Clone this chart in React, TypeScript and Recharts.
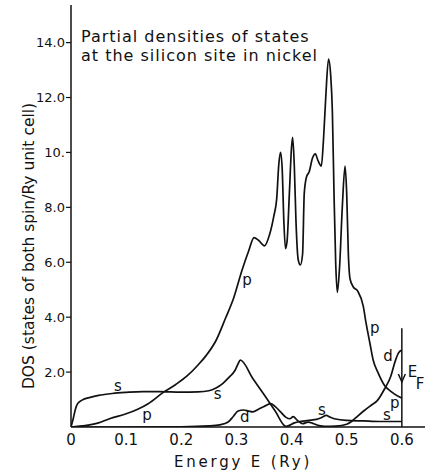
import React from 'react';
import { LineChart, Line, XAxis, YAxis, ReferenceLine, ReferenceDot } from 'recharts';

// Partial DOS at the Si site in Ni: [energy (Ry), states per Ry]
const sStates: [number, number][] = [
  [0, 0], [0.004, 0.3], [0.008, 0.65], [0.012, 0.85], [0.02, 0.98], [0.035, 1.08],
  [0.05, 1.15], [0.075, 1.22], [0.1, 1.26], [0.13, 1.29], [0.16, 1.29], [0.2, 1.27],
  [0.23, 1.28], [0.25, 1.32], [0.263, 1.42], [0.275, 1.58], [0.286, 1.8], [0.297, 2.05],
  [0.303, 2.3], [0.307, 2.44], [0.33, 1.76], [0.35, 1.18], [0.37, 0.59], [0.39, 0.02],
  [0.395, 0.05], [0.405, 0.15], [0.415, 0.2], [0.425, 0.22], [0.435, 0.25], [0.445, 0.28],
  [0.455, 0.35], [0.463, 0.42], [0.47, 0.36], [0.48, 0.29], [0.5, 0.24], [0.53, 0.22],
  [0.56, 0.2], [0.6, 0.2],
];

const pStates: [number, number][] = [
  [0, 0], [0.02, 0.04], [0.05, 0.15], [0.07, 0.3], [0.1, 0.48], [0.12, 0.64], [0.14, 0.85],
  [0.168, 1.27], [0.19, 1.55], [0.21, 1.85], [0.23, 2.25], [0.245, 2.6], [0.263, 3.15],
  [0.28, 3.95], [0.295, 4.7], [0.31, 5.7], [0.322, 6.4], [0.332, 6.9], [0.34, 6.8],
  [0.351, 6.6], [0.36, 7.0], [0.368, 7.7], [0.373, 8.3], [0.377, 9.6], [0.38, 10.0],
  [0.383, 9.4], [0.386, 7.5], [0.389, 6.5], [0.392, 6.8], [0.396, 8.5], [0.4, 10.2],
  [0.402, 10.55], [0.405, 9.5], [0.408, 7.5], [0.412, 6.1], [0.416, 5.9], [0.42, 6.3],
  [0.423, 8.5], [0.427, 9.1], [0.432, 9.3], [0.438, 9.8], [0.443, 9.95], [0.448, 9.7],
  [0.454, 9.5], [0.458, 10.5], [0.462, 12.0], [0.467, 13.4], [0.471, 12.8], [0.474, 11.5],
  [0.477, 8.5], [0.48, 6.0], [0.483, 4.9], [0.487, 5.8], [0.492, 8.0], [0.497, 9.5],
  [0.5, 8.5], [0.503, 6.3], [0.506, 5.4], [0.512, 5.1], [0.52, 4.95], [0.53, 4.4],
  [0.535, 3.8], [0.542, 3.06], [0.548, 2.44], [0.557, 1.97], [0.569, 1.5], [0.58, 1.3],
  [0.595, 1.1], [0.6, 1.05],
];

const dStates: [number, number][] = [
  [0, 0], [0.1, 0], [0.2, 0.01], [0.25, 0.04], [0.27, 0.08], [0.285, 0.18], [0.295, 0.4],
  [0.303, 0.58], [0.313, 0.62], [0.322, 0.58], [0.33, 0.55], [0.34, 0.65], [0.35, 0.75],
  [0.362, 0.85], [0.37, 0.75], [0.38, 0.55], [0.39, 0.35], [0.397, 0.3], [0.403, 0.38],
  [0.41, 0.25], [0.42, 0.12], [0.43, 0.18], [0.44, 0.12], [0.45, 0.05], [0.46, 0.02],
  [0.48, 0.03], [0.5, 0.1], [0.51, 0.22], [0.52, 0.4], [0.533, 0.62], [0.545, 0.8],
  [0.555, 0.95], [0.569, 1.4], [0.58, 1.85], [0.588, 2.4], [0.594, 2.7], [0.6, 2.8],
];

const energyTicks = [0, 0.1, 0.2, 0.3, 0.4, 0.5, 0.6];
const energyTickLabels = ['0', '0.1', '0.2', '0.3', '0.4', '0.5', '0.6'];
const dosTicks = [2, 4, 6, 8, 10, 12, 14];
const dosTickLabels = ['2.0', '4.0', '6.0', '8.0', '10.', '12.0', '14.0'];

const fermiEnergy = 0.6;

// curve letters placed next to each partial wave
const curveTags: { e: number; v: number; text: string }[] = [
  { e: 0.085, v: 1.5, text: 's' },
  { e: 0.266, v: 1.22, text: 's' },
  { e: 0.455, v: 0.64, text: 's' },
  { e: 0.573, v: 0.45, text: 's' },
  { e: 0.138, v: 0.44, text: 'p' },
  { e: 0.319, v: 5.36, text: 'p' },
  { e: 0.551, v: 3.6, text: 'p' },
  { e: 0.587, v: 0.9, text: 'p' },
  { e: 0.315, v: 0.36, text: 'd' },
  { e: 0.575, v: 2.6, text: 'd' },
];

const toRows = (pts: [number, number][]) => pts.map(([e, v]) => ({ e, v }));

const FONT = '"DejaVu Sans", sans-serif';
const INK = '#111';

const FermiMark = (props: any) => {
  const { cx, cy } = props;
  return (
    <g>
      <path d={`M${cx - 3.5},${cy - 8} L${cx},${cy} L${cx + 3.5},${cy - 8}`} stroke={INK} strokeWidth={1.5} fill="none" />
      <text x={cx + 6} y={cy - 5} fontFamily={FONT} fontSize={15} fill={INK}>E</text>
      <text x={cx + 14} y={cy + 7} fontFamily={FONT} fontSize={15} fill={INK}>F</text>
    </g>
  );
};

export default function App() {
  return (
    <div style={{ position: 'absolute', left: 0, top: 0, width: 425, height: 475, background: '#fff' }}>
      <LineChart width={425} height={475} margin={{ top: 5, right: 0, bottom: 0, left: 0 }}>
        <XAxis
          type="number"
          dataKey="e"
          domain={[0, 0.642]}
          ticks={energyTicks}
          tickFormatter={(v: number) => energyTickLabels[energyTicks.indexOf(v)] ?? ''}
          height={48}
          tickLine={false}
          tickSize={4}
          tickMargin={3}
          axisLine={{ stroke: INK, strokeWidth: 1.5 }}
          tick={{ fill: INK, fontSize: 15, fontFamily: FONT }}
          allowDataOverflow
        />
        <YAxis
          type="number"
          domain={[0, 15.37]}
          ticks={dosTicks}
          tickFormatter={(v: number) => dosTickLabels[dosTicks.indexOf(v)] ?? ''}
          width={71}
          tickSize={5}
          tickMargin={1}
          tickLine={{ stroke: INK, strokeWidth: 1.2 }}
          axisLine={{ stroke: INK, strokeWidth: 1.5 }}
          tick={{ fill: INK, fontSize: 13, fontFamily: FONT }}
          allowDataOverflow
        />
        <Line data={toRows(sStates)} dataKey="v" type="monotone" stroke={INK} strokeWidth={1.7} dot={false} isAnimationActive={false} />
        <Line data={toRows(pStates)} dataKey="v" type="monotone" stroke={INK} strokeWidth={1.7} dot={false} isAnimationActive={false} />
        <Line data={toRows(dStates)} dataKey="v" type="monotone" stroke={INK} strokeWidth={1.7} dot={false} isAnimationActive={false} />
        <ReferenceLine
          segment={[{ x: fermiEnergy, y: 0 }, { x: fermiEnergy, y: 3.6 }]}
          stroke={INK}
          strokeWidth={1.5}
        />
        <ReferenceDot x={fermiEnergy} y={1.64} r={0} shape={FermiMark} />
        {curveTags.map((t, i) => (
          <ReferenceDot
            key={i}
            x={t.e}
            y={t.v}
            r={0}
            shape={(p: any) => (
              <text x={p.cx} y={p.cy} dy="0.35em" textAnchor="middle" fontFamily={FONT} fontSize={15} fill={INK}>
                {t.text}
              </text>
            )}
          />
        ))}
      </LineChart>
      <div style={{ position: 'absolute', left: 81, top: 27, fontFamily: FONT, fontSize: 16, letterSpacing: 1, lineHeight: '19px', color: INK, whiteSpace: 'nowrap' }}>
        Partial densities of states
        <br />
        at the silicon site in nickel
      </div>
      <div
        style={{
          position: 'absolute', left: 29, top: 246, transform: 'translate(-50%, -50%) rotate(-90deg)',
          fontFamily: FONT, fontSize: 15.5, color: INK, whiteSpace: 'nowrap',
        }}
      >
        DOS (states of both spin/Ry unit cell)
      </div>
      <div
        style={{
          position: 'absolute', left: 243, top: 462, transform: 'translate(-50%, -50%)',
          fontFamily: FONT, fontSize: 15, letterSpacing: 2.8, color: INK, whiteSpace: 'nowrap',
        }}
      >
        Energy E (Ry)
      </div>
    </div>
  );
}
